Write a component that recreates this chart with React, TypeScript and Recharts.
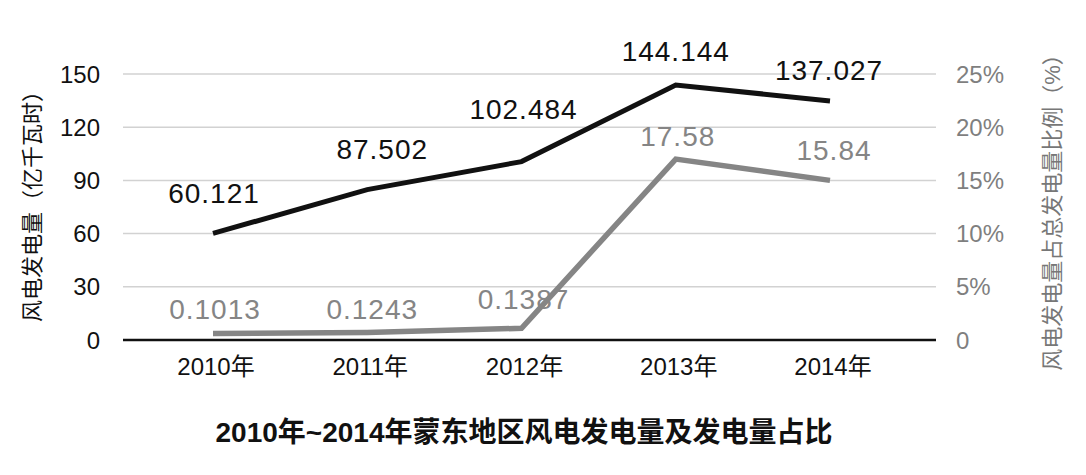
import React from 'react';
import { LineChart, Line, XAxis, YAxis, CartesianGrid } from 'recharts';

const YEARS = ['2010年', '2011年', '2012年', '2013年', '2014年'];
// wind power generation (100 million kWh), as drawn
const GENERATION = [60.1, 84.8, 100.6, 143.8, 134.8];
// share of total generation (%), as drawn
const SHARE = [0.6, 0.7, 1.1, 17.0, 15.0];
const GENERATION_LABELS = ['60.121', '87.502', '102.484', '144.144', '137.027'];
const SHARE_LABELS = ['0.1013', '0.1243', '0.1387', '17.58', '15.84'];
const LEFT_TICKS = [0, 30, 60, 90, 120, 150];
const RIGHT_TICKS = [0, 5, 10, 15, 20, 25];

const rows = YEARS.map((year, i) => ({ year, gen: GENERATION[i], share: SHARE[i] }));

// hand nudges for where each value label sits relative to its point
const GEN_NUDGE = [
  [1, -40],
  [15, -40],
  [2, -52],
  [0, -33],
  [-1, -30],
];
const SHARE_NUDGE = [
  [2, -24],
  [5, -23],
  [2, -29],
  [2, -23],
  [4, -30],
];

const FONT = '"Liberation Sans", Arial, "Noto Sans CJK SC", sans-serif';
const INK = '#111111';
const GREY = '#858585';

function valueLabel(texts: string[], nudge: number[][], color: string) {
  return (p: any) => {
    const i = p.index;
    if (p.cx == null || p.cy == null) return <g key={`n-${i}`} />;
    return (
      <text
        key={`l-${i}`}
        x={p.cx + nudge[i][0]}
        y={p.cy + nudge[i][1]}
        textAnchor="middle"
        dominantBaseline="central"
        fill={color}
        fontSize={28}
        letterSpacing={1}
        fontFamily={FONT}
      >
        {texts[i]}
      </text>
    );
  };
}

export default function App() {
  return (
    <div style={{ position: 'absolute', left: 0, top: 0, width: 1086, height: 475, background: '#fff', fontFamily: FONT }}>
      <LineChart width={1086} height={475} data={rows} margin={{ top: 74, right: 0, bottom: 95, left: 0 }}>
        <CartesianGrid yAxisId="l" vertical={false} stroke="#d2d2d2" strokeWidth={1.5} />
        <XAxis
          dataKey="year"
          padding={{ left: 90, right: 106 }}
          height={40}
          tickLine={false}
          tickSize={0}
          tickMargin={18}
          axisLine={{ stroke: INK, strokeWidth: 2.5 }}
          tick={{ fill: INK, fontSize: 24, fontFamily: FONT, dx: 3 }}
        />
        <YAxis
          yAxisId="l"
          orientation="left"
          width={123}
          domain={[0, 150]}
          ticks={LEFT_TICKS}
          axisLine={false}
          tickLine={false}
          tickSize={0}
          tickMargin={23}
          tick={{ fill: INK, fontSize: 24, fontFamily: FONT }}
        />
        <YAxis
          yAxisId="r"
          orientation="right"
          width={150}
          domain={[0, 25]}
          ticks={RIGHT_TICKS}
          axisLine={false}
          tickLine={false}
          tickSize={0}
          tickMargin={20}
          tickFormatter={(v: number) => (v === 0 ? '0' : `${v}%`)}
          tick={{ fill: '#7f7f7f', fontSize: 24, fontFamily: FONT }}
        />
        {/* labels first so the lines sit on top of them */}
        <Line
          yAxisId="l"
          dataKey="gen"
          stroke="none"
          isAnimationActive={false}
          activeDot={false}
          dot={valueLabel(GENERATION_LABELS, GEN_NUDGE, INK)}
        />
        <Line
          yAxisId="r"
          dataKey="share"
          stroke="none"
          isAnimationActive={false}
          activeDot={false}
          dot={valueLabel(SHARE_LABELS, SHARE_NUDGE, GREY)}
        />
        <Line yAxisId="r" dataKey="share" stroke={GREY} strokeWidth={5.5} dot={false} activeDot={false} isAnimationActive={false} />
        <Line yAxisId="l" dataKey="gen" stroke={INK} strokeWidth={5} dot={false} activeDot={false} isAnimationActive={false} />
      </LineChart>
      <div
        style={{
          position: 'absolute',
          left: 30,
          top: 201,
          transform: 'translate(-50%, -50%) rotate(-90deg)',
          whiteSpace: 'nowrap',
          fontSize: 22,
          color: INK,
        }}
      >
        风电发电量（亿千瓦时）
      </div>
      <div
        style={{
          position: 'absolute',
          left: 1050,
          top: 207,
          transform: 'translate(-50%, -50%) rotate(-90deg)',
          whiteSpace: 'nowrap',
          fontSize: 22,
          color: '#777777',
        }}
      >
        风电发电量占总发电量比例（%）
      </div>
      <div
        style={{
          position: 'absolute',
          left: 524,
          top: 430,
          transform: 'translate(-50%, -50%)',
          whiteSpace: 'nowrap',
          fontSize: 28,
          fontWeight: 'bold',
          color: INK,
        }}
      >
        2010年~2014年蒙东地区风电发电量及发电量占比
      </div>
    </div>
  );
}
